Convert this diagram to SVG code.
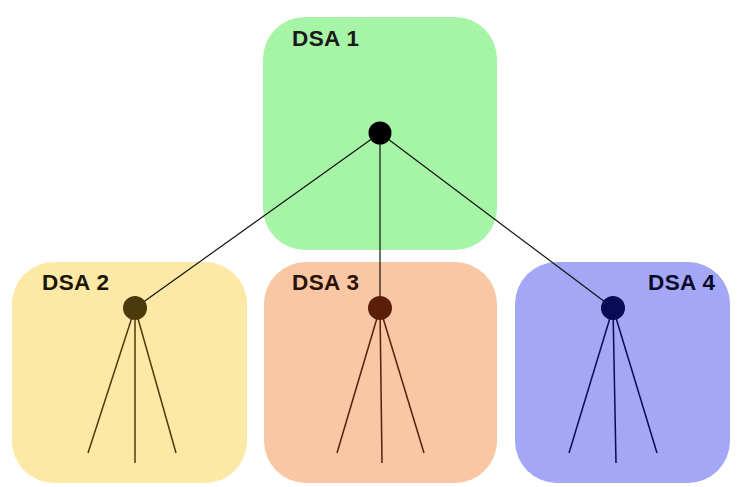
<svg xmlns="http://www.w3.org/2000/svg" width="738" height="487" viewBox="0 0 738 487">
<style>
.lbl{font-family:"Liberation Sans",Arial,sans-serif;font-weight:bold;font-size:22.5px;letter-spacing:0.4px}
.edge{stroke:#111;stroke-width:1.2;fill:none}
</style>
<rect width="738" height="487" fill="#fff"/>
<g id="dsa1">
<rect x="263" y="17" width="234" height="233" rx="42" fill="#a6f5a6"/>
<text class="lbl" x="292" y="46" fill="#1a1a1a">DSA 1</text>
</g>
<g id="dsa2">
<rect x="12" y="262" width="235" height="221" rx="42" fill="#fde9a6"/>
<text class="lbl" x="42" y="290" fill="#1a1508">DSA 2</text>
<g stroke="#4a3a0c" stroke-width="1.5">
<line x1="135" y1="308" x2="88" y2="453"/>
<line x1="135" y1="308" x2="135" y2="463"/>
<line x1="135" y1="308" x2="176" y2="453"/>
</g>
</g>
<g id="dsa3">
<rect x="264" y="262" width="233" height="221" rx="42" fill="#f9c7a3"/>
<text class="lbl" x="292" y="290" fill="#2a120a">DSA 3</text>
<g stroke="#5a1e0a" stroke-width="1.5">
<line x1="380" y1="308" x2="337" y2="453"/>
<line x1="380" y1="308" x2="382" y2="463"/>
<line x1="380" y1="308" x2="424" y2="453"/>
</g>
</g>
<g id="dsa4">
<rect x="515" y="262" width="215" height="221" rx="42" fill="#a4a6f6"/>
<text class="lbl" x="648" y="290" fill="#0a0a2a">DSA 4</text>
<g stroke="#0a0a55" stroke-width="1.5">
<line x1="613" y1="308" x2="569" y2="453"/>
<line x1="613" y1="308" x2="616" y2="463"/>
<line x1="613" y1="308" x2="657" y2="453"/>
</g>
</g>
<g id="connectors">
<line class="edge" x1="380" y1="133" x2="135" y2="308"/>
<line class="edge" x1="380" y1="133" x2="380" y2="308"/>
<line class="edge" x1="380" y1="133" x2="613" y2="308"/>
</g>
<g id="nodes">
<circle id="n1" cx="380" cy="133" r="11.5" fill="#000"/>
<circle id="n2" cx="135" cy="308" r="12" fill="#4a3a0c"/>
<circle id="n3" cx="380" cy="308" r="12" fill="#5a1e0a"/>
<circle id="n4" cx="613" cy="308" r="12" fill="#0a0a55"/>
</g>
</svg>
